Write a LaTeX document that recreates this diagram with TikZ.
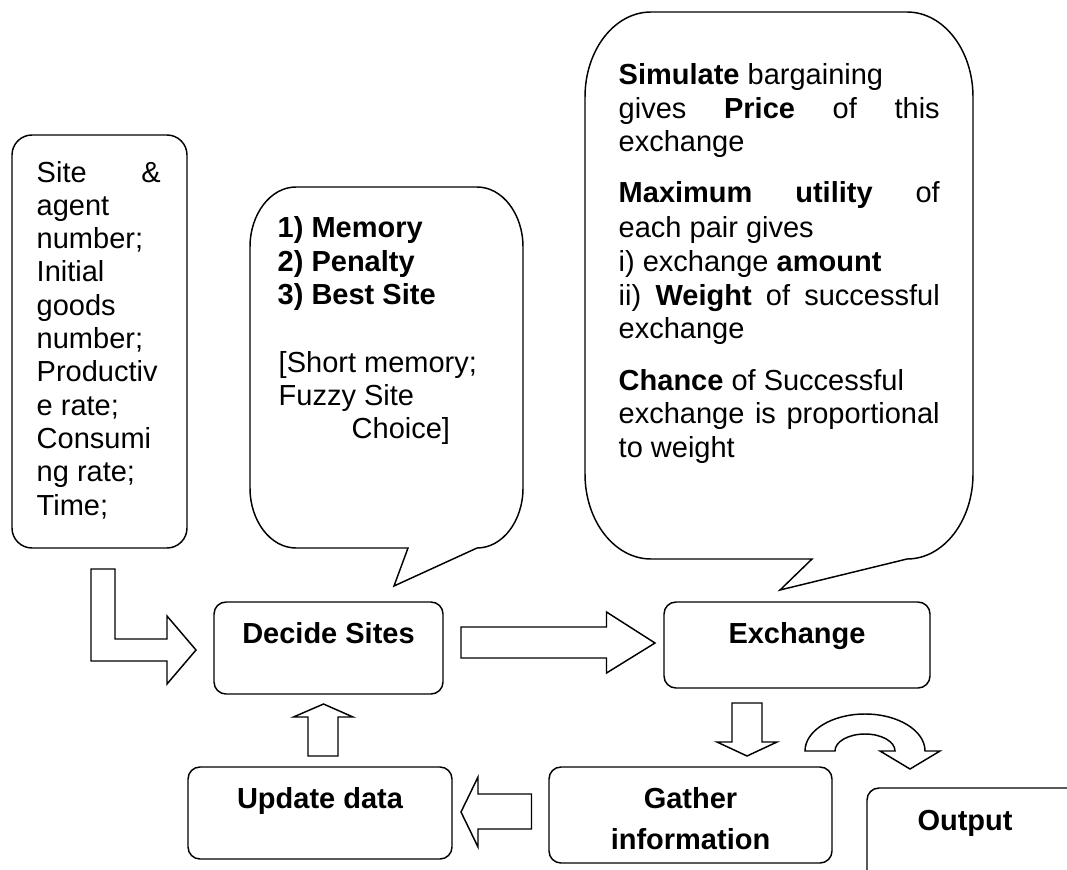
\documentclass[tikz,border=0pt]{standalone}
\usepackage{fontspec}
\setmainfont{Liberation Sans}
\begin{document}
\begin{tikzpicture}[x=0.75pt,y=-0.75pt,line width=1.1pt,line join=miter,
  every node/.style={font=\fontsize{21.75pt}{25pt}\selectfont,inner sep=0pt},
  box/.style={draw,rounded corners=9pt,inner sep=0pt},
  txt/.style={anchor=base west},
  lbl/.style={anchor=base,font=\fontsize{21.75pt}{25pt}\selectfont\bfseries},
  blockarrow/.style={draw,fill=white,line join=miter}]
\useasboundingbox (0,0) rectangle (1067,870);
\clip (0,0) rectangle (1067,870);

% ---------- input box ----------
\node[box,rounded corners=15pt,minimum width=175*0.75pt,minimum height=413*0.75pt] (input) at (99.5,341.5) {};
\node[txt] (in1) at (36,182) {\makebox[93pt][s]{Site \&}};
\node[txt] (in2) at (36,215.3) {agent};
\node[txt] (in3) at (36,248.6) {number;};
\node[txt] (in4) at (36,281.9) {Initial};
\node[txt] (in5) at (36,315.2) {goods};
\node[txt] (in6) at (36,348.5) {number;};
\node[txt] (in7) at (36,381.8) {Productiv};
\node[txt] (in8) at (36,415.1) {e rate;};
\node[txt] (in9) at (36,448.4) {Consumi};
\node[txt] (in10) at (36,481.7) {ng rate;};
\node[txt] (in11) at (36,515) {Time;};

% ---------- callout 1 ----------
\draw (250,247) .. controls (250,213.9) and (270.6,187) .. (296,187) -- (477,187)
  .. controls (502.4,187) and (523,213.9) .. (523,247) -- (523,488)
  .. controls (523,521.1) and (502.4,548) .. (477,548) -- (394,586) -- (408,548) -- (296,548)
  .. controls (270.6,548) and (250,521.1) .. (250,488) -- cycle;
\node[txt,font=\fontsize{21.75pt}{25pt}\selectfont\bfseries] (c1a) at (277,238) {1) Memory};
\node[txt,font=\fontsize{21.75pt}{25pt}\selectfont\bfseries] (c1b) at (277,271.3) {2) Penalty};
\node[txt,font=\fontsize{21.75pt}{25pt}\selectfont\bfseries] (c1c) at (277,304.6) {3) Best Site};
\node[txt] (c1d) at (278,372) {[Short memory;};
\node[txt] (c1e) at (278,405) {Fuzzy Site};
\node[txt] (c1f) at (351,438) {Choice]};

% ---------- callout 2 ----------
\draw (585,97) .. controls (585,50) and (614.5,12) .. (651,12) -- (907,12)
  .. controls (943.5,12) and (973,50) .. (973,97) -- (973,474)
  .. controls (973,521) and (943.5,559) .. (907,559) -- (780,590) -- (812,559) -- (651,559)
  .. controls (614.5,559) and (585,521) .. (585,474) -- cycle;
\node[txt] (c2a) at (618,85) {\textbf{Simulate} bargaining};
\node[txt] (c2b) at (618,119) {\makebox[240.75pt][s]{gives \textbf{Price} of this}};
\node[txt] (c2c) at (618,152) {exchange};
\node[txt] (c2d) at (618,203) {\makebox[240.75pt][s]{\textbf{Maximum} \textbf{utility} of}};
\node[txt] (c2e) at (618,237) {each pair gives};
\node[txt] (c2f) at (618,271) {i) exchange \textbf{amount}};
\node[txt] (c2g) at (618,305) {\makebox[240.75pt][s]{ii) \textbf{Weight} of successful}};
\node[txt] (c2h) at (618,338) {exchange};
\node[txt] (c2i) at (618,390) {\textbf{Chance} of Successful};
\node[txt] (c2j) at (618,423) {\makebox[240.75pt][s]{exchange is proportional}};
\node[txt] (c2k) at (618,457) {to weight};

% ---------- process boxes ----------
\node[box,minimum width=229*0.75pt,minimum height=92*0.75pt] (decide) at (328.5,648) {};
\node[lbl] (decidet) at (328.5,643) {Decide Sites};
\node[box,minimum width=266*0.75pt,minimum height=86*0.75pt] (exchange) at (797,645) {};
\node[lbl] (exchanget) at (797,643) {Exchange};
\node[box,minimum width=264*0.75pt,minimum height=92*0.75pt] (update) at (320,813) {};
\node[lbl] (updatet) at (320,808) {Update data};
\node[box,minimum width=283*0.75pt,minimum height=96*0.75pt] (gather) at (690.5,815) {};
\node[lbl] (gathert1) at (690.5,808) {Gather};
\node[lbl] (gathert2) at (690.5,849) {information};
\node[box,minimum width=300*0.75pt,minimum height=120*0.75pt] (output) at (1017,848) {};
\node[lbl] (outputt) at (965,830) {Output};

% ---------- block arrows ----------
% input -> decide (bent)
\draw[blockarrow] (91,569) -- (115,569) -- (115,639) -- (167,639) -- (167,616) -- (196,650)
  -- (167,684) -- (167,661) -- (91,661) -- cycle;
% decide -> exchange
\draw[blockarrow] (461,627) -- (606.5,627) -- (606.5,612) -- (655,643) -- (606.5,673)
  -- (606.5,658) -- (461,658) -- cycle;
% update -> decide
\draw[blockarrow] (308,756) -- (308,717) -- (293.5,717) -- (323.5,704) -- (353,717)
  -- (338,717) -- (338,756) -- cycle;
% gather -> update
\draw[blockarrow] (531.5,794) -- (478,794) -- (478,777) -- (461,812) -- (478,847)
  -- (478,829) -- (531.5,829) -- cycle;
% exchange -> gather
\draw[blockarrow] (732,703) -- (762,703) -- (762,742) -- (777,742) -- (747,756)
  -- (717,742) -- (732,742) -- cycle;
% exchange -> output (U-turn)
\draw[blockarrow] (805,751) .. controls (805,730.6) and (831.9,714) .. (865,714)
  .. controls (898.1,714) and (925,730.6) .. (925,751) -- (940,751) -- (910,769) -- (880,751)
  -- (895,751) .. controls (895,741.6) and (881.6,734) .. (865,734)
  .. controls (848.4,734) and (835,741.6) .. (835,751) -- cycle;
\end{tikzpicture}
\end{document}
